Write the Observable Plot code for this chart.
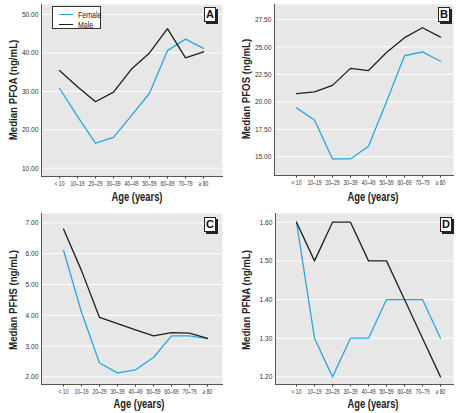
<!DOCTYPE html>
<html>
<head>
<meta charset="utf-8">
<script src="https://cdn.jsdelivr.net/npm/d3@7"></script>
<script src="https://cdn.jsdelivr.net/npm/@observablehq/plot@0.6"></script>
<style>
  html, body { margin: 0; padding: 0; background: #fff; }
  #wrap { position: relative; width: 462px; height: 413px; font-family: "Liberation Sans", Arial, sans-serif; }
  .panel { position: absolute; }
  .xtitle { position: absolute; font-weight: bold; font-size: 12px; color: #222; text-align: center; width: 180px; height: 16px; line-height: 16px; transform: scaleX(0.78); }
  .ytitle { position: absolute; font-weight: bold; font-size: 11.5px; color: #222; white-space: nowrap; transform: translate(-50%, -50%) rotate(-90deg) scaleX(0.84); }
  .tag { position: absolute; width: 10px; height: 13px; border: 1px solid #222; background: #fff; font-weight: bold; font-size: 11px; line-height: 13px; text-align: center; box-shadow: 2px 2px 0 #222; color: #111; }
  .legend { position: absolute; border: 1px solid #333; background: #fff; width: 47px; height: 21px; }
  .legend .row { position: absolute; left: 6px; height: 10px; width: 60px; }
  .legend .sw { position: absolute; left: 0; top: 4px; width: 14px; height: 0; border-top: 1.3px solid; }
  .legend .lab { position: absolute; left: 19px; top: 0; font-size: 9px; line-height: 10px; color: #222; transform: scaleX(0.78); transform-origin: left center; }
</style>
</head>
<body>
<div id="wrap"></div>
<script>
const ages = ["< 10", "10–19", "20–29", "30–39", "40–49", "50–59", "60–69", "70–79", "≥ 80"];

const pfoaFemale = [30.8, 23.5, 16.5, 18.0, 23.7, 29.5, 40.6, 43.6, 41.2];
const pfoaMale   = [35.4, 31.2, 27.3, 29.8, 35.8, 40.0, 46.3, 38.7, 40.3];
const pfosFemale = [19.45, 18.35, 14.8, 14.8, 15.95, 20.0, 24.2, 24.55, 23.7];
const pfosMale   = [20.75, 20.9, 21.5, 23.05, 22.85, 24.5, 25.85, 26.75, 25.9];
const pfhsFemale = [6.11, 4.1, 2.45, 2.13, 2.23, 2.63, 3.33, 3.33, 3.24];
const pfhsMale   = [6.8, 5.45, 3.93, 3.73, 3.53, 3.33, 3.44, 3.42, 3.25];
const pfnaFemale = [1.6, 1.3, 1.2, 1.3, 1.3, 1.4, 1.4, 1.4, 1.3];
const pfnaMale   = [1.6, 1.5, 1.6, 1.6, 1.5, 1.5, 1.4, 1.3, 1.2];

const ticksA = [10, 20, 30, 40, 50];
const ticksB = [15, 17.5, 20, 22.5, 25, 27.5];
const ticksC = [2, 3, 4, 5, 6, 7];
const ticksD = [1.2, 1.3, 1.4, 1.5, 1.6];

const FEMALE = "#2ba6de";
const MALE = "#1e1e1e";

function rows(vals, sex) { return ages.map((a, i) => ({age: a, v: vals[i], sex})); }

// horizontally condense axis texts (narrow typeface look) about each label's anchor
function condense(svg, label, factor) {
  svg.querySelectorAll(`g[aria-label="${label}"] text`).forEach(t => {
    const tr = t.getAttribute("transform") || "";
    t.setAttribute("transform", tr + ` scale(${factor},1)`);
  });
}

function panel(cfg) {
  const data = rows(cfg.female, "Female").concat(rows(cfg.male, "Male"));
  return Plot.plot({
    width: 231,
    height: cfg.height,
    marginLeft: cfg.ml, marginRight: cfg.mr, marginTop: cfg.mt, marginBottom: cfg.mb,
    style: {fontFamily: '"Liberation Sans", Arial, sans-serif', fontSize: "8px", background: "transparent", color: "#333"},
    x: {type: "point", domain: ages, range: cfg.xr, padding: 0, label: null},
    y: {domain: cfg.yd, label: null},
    marks: [
      Plot.frame({fill: "#e7e7e7", stroke: null}),
      Plot.gridY(cfg.ticks, {stroke: "#fff", strokeOpacity: 1, strokeWidth: 1}),
      Plot.axisY(cfg.ticks, {tickSize: 0, tickPadding: 3, tickFormat: d => d.toFixed(2), label: null, fontSize: 8}),
      Plot.axisX({tickSize: 2.5, tickPadding: 2, label: null, fontSize: 6.8}),
      Plot.frame({anchor: "left", stroke: "#555"}),
      Plot.frame({anchor: "bottom", stroke: "#555"}),
      Plot.lineY(data, {x: "age", y: "v", z: "sex", stroke: d => d.sex === "Female" ? FEMALE : MALE, strokeWidth: 1.3})
    ]
  });
}

const wrap = document.getElementById("wrap");
function place(node, x, y) {
  node.classList.add("panel");
  node.style.left = x + "px"; node.style.top = y + "px";
  wrap.appendChild(node);
  condense(node, "y-axis tick label", 0.83);
  condense(node, "x-axis tick label", 0.74);
}
function addDiv(cls, html, css) {
  const d = document.createElement("div");
  d.className = cls; d.innerHTML = html;
  Object.assign(d.style, css);
  wrap.appendChild(d);
  return d;
}

place(panel({female: pfoaFemale, male: pfoaMale, ticks: ticksA, yd: [7.84, 52.6],
  height: 206, ml: 41, mr: 9, mt: 4, mb: 30, xr: [58.3, 203.3]}), 0, 0);
place(panel({female: pfosFemale, male: pfosMale, ticks: ticksB, yd: [13.29, 28.87],
  height: 206, ml: 43, mr: 9, mt: 4, mb: 31, xr: [62.7, 210.7]}), 231, 0);
place(panel({female: pfhsFemale, male: pfhsMale, ticks: ticksC, yd: [1.753, 7.305],
  height: 213, ml: 41, mr: 9, mt: 13, mb: 29, xr: [59.3, 210]}), 0, 200);
place(panel({female: pfnaFemale, male: pfnaMale, ticks: ticksD, yd: [1.1803, 1.6225],
  height: 213, ml: 44, mr: 9, mt: 13, mb: 29, xr: [62.3, 211]}), 231, 200);

// axis titles
addDiv("xtitle", "Age (years)", {left: (137 - 90) + "px", top: (197 - 8) + "px"});
addDiv("xtitle", "Age (years)", {left: (373 - 90) + "px", top: (197 - 8) + "px"});
addDiv("xtitle", "Age (years)", {left: (139 - 90) + "px", top: (404 - 8) + "px"});
addDiv("xtitle", "Age (years)", {left: (373 - 90) + "px", top: (404 - 8) + "px"});
addDiv("ytitle", "Median PFOA (ng/mL)", {left: "13px", top: "90px"});
addDiv("ytitle", "Median PFOS (ng/mL)", {left: "246px", top: "89px"});
addDiv("ytitle", "Median PFHS (ng/mL)", {left: "13px", top: "300px"});
addDiv("ytitle", "Median PFNA (ng/mL)", {left: "246px", top: "300px"});

// panel tags
addDiv("tag", "A", {left: "204px", top: "7px"});
addDiv("tag", "B", {left: "438px", top: "7px"});
addDiv("tag", "C", {left: "204px", top: "217px"});
addDiv("tag", "D", {left: "440px", top: "217px"});

// legend
addDiv("legend",
  `<div class="row" style="top:3px"><span class="sw" style="border-color:${FEMALE}"></span><span class="lab">Female</span></div>` +
  `<div class="row" style="top:13px"><span class="sw" style="border-color:${MALE}"></span><span class="lab">Male</span></div>`,
  {left: "52px", top: "6px"});
</script>
</body>
</html>
